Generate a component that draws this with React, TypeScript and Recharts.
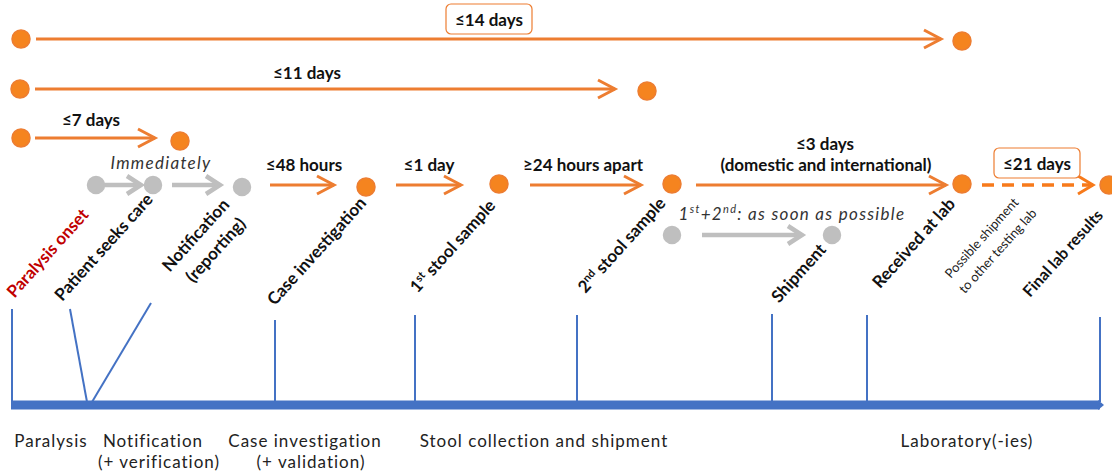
import React from 'react';
import { ComposedChart, Line, Scatter, XAxis, YAxis } from 'recharts';

const W = 1112;
const H = 474;

const ORANGE = '#ED7D31';
const DOT_ORANGE = '#F5841F';
const DASH_ORANGE = '#F77A1B';
const GREY = '#BFBFBF';
const BLUE = '#4472C4';
const FONT = 'Lato, "Open Sans", sans-serif';

// milestone dots (diagram units: x along the timeline, y down the page)
const orangeDots = [
  { x: 21, y: 39 }, { x: 962, y: 41 },
  { x: 20, y: 89 }, { x: 647, y: 91 },
  { x: 21, y: 138 }, { x: 180, y: 141 },
  { x: 366, y: 187 }, { x: 499, y: 184 }, { x: 672, y: 184 },
  { x: 962, y: 184 }, { x: 1109, y: 185 },
];
const greyDots = [
  { x: 96, y: 185 }, { x: 153, y: 185 }, { x: 242, y: 187 },
  { x: 672, y: 235 }, { x: 832, y: 235 },
];

// delay arrows
const spanArrows = [
  { from: 36, to: 941, y: 39 },
  { from: 35, to: 615, y: 89 },
  { from: 35, to: 155, y: 138 },
];
const stepArrows = [
  { from: 270, to: 334, y: 185 },
  { from: 396, to: 461, y: 185 },
  { from: 530, to: 641, y: 185 },
  { from: 696, to: 946, y: 185 },
];
const labArrows = [{ from: 982, to: 1093, y: 185 }];
const greyArrows = [
  { from: 104, to: 141, y: 185 },
  { from: 172, to: 220, y: 185 },
  { from: 702, to: 802, y: 235 },
];

// delay texts
const delayLabels = [
  { x: 307, y: 72, text: '≤11 days' },
  { x: 91, y: 119, text: '≤7 days' },
  { x: 304, y: 164, text: '≤48 hours' },
  { x: 429, y: 164, text: '≤1 day' },
  { x: 583, y: 164, text: '≥24 hours apart' },
  { x: 825, y: 143, text: '≤3 days' },
  { x: 826, y: 164, text: '(domestic and international)' },
];
const boxedLabels = [
  { x: 489, y: 19, text: '≤14 days' },
  { x: 1037, y: 163, text: '≤21 days' },
];
const noteLabels = [
  { x: 161, y: 162, lead: 'Immediately', sup1: '', mid: '', sup2: '', rest: '' },
  { x: 792, y: 213, lead: '1', sup1: 'st', mid: '+2', sup2: 'nd', rest: ': as soon as possible' },
];

// rotated milestone names
const onsetLabel = [{ x: 52, y: 257, lead: 'Paralysis onset', sup: '', rest: '' }];
const milestoneLabels = [
  { x: 108, y: 251, lead: 'Patient seeks care', sup: '', rest: '' },
  { x: 200, y: 239, lead: 'Notification', sup: '', rest: '' },
  { x: 220, y: 254, lead: '(reporting)', sup: '', rest: '' },
  { x: 321, y: 255, lead: 'Case investigation', sup: '', rest: '' },
  { x: 457, y: 250, lead: '1', sup: 'st', rest: ' stool sample' },
  { x: 626, y: 249, lead: '2', sup: 'nd', rest: ' stool sample' },
  { x: 803, y: 277, lead: 'Shipment', sup: '', rest: '' },
  { x: 918, y: 247, lead: 'Received at lab', sup: '', rest: '' },
];
const sideNotes = [
  { x: 985, y: 241, text: 'Possible shipment' },
  { x: 1001, y: 254, text: 'to other testing lab' },
];
const cutLabel = [{ x: 1030, y: 298, text: 'Final lab results' }];

// timeline connectors and axis
const connectors = [
  { x1: 12, y1: 309, x2: 12, y2: 402 },
  { x1: 70, y1: 309, x2: 87, y2: 402 },
  { x1: 151, y1: 303, x2: 92, y2: 402 },
  { x1: 275, y1: 320, x2: 275, y2: 402 },
  { x1: 415, y1: 315, x2: 415, y2: 402 },
  { x1: 577, y1: 315, x2: 577, y2: 402 },
  { x1: 772, y1: 314, x2: 772, y2: 402 },
  { x1: 867, y1: 315, x2: 867, y2: 402 },
  { x1: 1100, y1: 317, x2: 1100, y2: 402 },
];
const timelineAxis = [{ x: 11, y: 405 }, { x: 1100, y: 405 }];
const phaseLabels = [
  { x: 51, y: 447, text: 'Paralysis' },
  { x: 153, y: 447, text: 'Notification' },
  { x: 159, y: 468, text: '(+ verification)' },
  { x: 305, y: 447, text: 'Case investigation' },
  { x: 311, y: 468, text: '(+ validation)' },
  { x: 544, y: 447, text: 'Stool collection and shipment' },
  { x: 967, y: 447, text: 'Laboratory(-ies)' },
];

const chevron = (color: string, len: number, half: number, width: number) => (p: any) => {
  if (p.index !== 1) return <g key={`n-${p.index}`} />;
  return (
    <path
      key={`h-${p.index}`}
      d={`M${p.cx - len},${p.cy - half} L${p.cx},${p.cy} L${p.cx - len},${p.cy + half}`}
      fill="none"
      stroke={color}
      strokeWidth={width}
    />
  );
};

const dotShape = (fill: string, stroke: string, r: number) => (p: any) => (
  <circle cx={p.cx} cy={p.cy} r={r} fill={fill} stroke={stroke} strokeWidth={1.5} />
);

const plainText = (p: any) => (
  <text x={p.cx} y={p.cy} textAnchor="middle" dominantBaseline="central" fontFamily={FONT}
    fontWeight={700} fontSize={17} fill="#111">{p.payload.text}</text>
);

const boxedText = (p: any) => (
  <g>
    <rect x={p.cx - 43} y={p.cy - 15} width={86} height={30} rx={5} fill="#fff" stroke={ORANGE} strokeWidth={1.2} />
    <text x={p.cx} y={p.cy} textAnchor="middle" dominantBaseline="central" fontFamily={FONT}
      fontWeight={700} fontSize={17} fill="#111">{p.payload.text}</text>
  </g>
);

const noteText = (p: any) => (
  <text x={p.cx} y={p.cy} textAnchor="middle" dominantBaseline="central" fontFamily={FONT}
    fontStyle="italic" fontSize={17} letterSpacing={1.3} fill="#333">
    <tspan>{p.payload.lead}</tspan>
    {p.payload.sup1 && <tspan dy={-5} fontSize={11}>{p.payload.sup1}</tspan>}
    {p.payload.mid && <tspan dy={5}>{p.payload.mid}</tspan>}
    {p.payload.sup2 && <tspan dy={-5} fontSize={11}>{p.payload.sup2}</tspan>}
    {p.payload.rest && <tspan dy={5}>{p.payload.rest}</tspan>}
  </text>
);

const rotatedText = (color: string) => (p: any) => (
  <text x={p.cx} y={p.cy} transform={`rotate(-48 ${p.cx} ${p.cy})`} textAnchor="middle"
    fontFamily={FONT} fontWeight={700} fontSize={17} fill={color}>
    <tspan>{p.payload.lead}</tspan>
    {p.payload.sup && <tspan dy={-6} fontSize={11}>{p.payload.sup}</tspan>}
    {p.payload.rest && <tspan dy={6}>{p.payload.rest}</tspan>}
  </text>
);

const sideText = (p: any) => (
  <text x={p.cx} y={p.cy} transform={`rotate(-48 ${p.cx} ${p.cy})`} textAnchor="middle"
    fontFamily={FONT} fontSize={13} fill="#222">{p.payload.text}</text>
);

const cutText = (p: any) => (
  <text x={p.cx} y={p.cy} transform={`rotate(-48 ${p.cx} ${p.cy})`} textAnchor="start"
    fontFamily={FONT} fontWeight={700} fontSize={16} fill="#111">{p.payload.text}</text>
);

const phaseText = (p: any) => (
  <text x={p.cx} y={p.cy} textAnchor="middle" fontFamily={FONT} fontSize={17}
    letterSpacing={1} fill="#222">{p.payload.text}</text>
);

const axisHead = (p: any) => {
  if (p.index !== 1) return <g key={`n-${p.index}`} />;
  return <path key="axis-head" d={`M${p.cx - 2},${p.cy - 5} L${p.cx + 4},${p.cy} L${p.cx - 2},${p.cy + 5} Z`} fill={BLUE} />;
};

const arrowLine = (a: { from: number; to: number; y: number }) => [
  { x: a.from, y: a.y },
  { x: a.to, y: a.y },
];

export default function App() {
  return (
    <div style={{ position: 'absolute', left: 0, top: 0, background: '#fff' }}>
      <ComposedChart width={W} height={H} margin={{ top: 0, right: 0, bottom: 0, left: 0 }}>
        <XAxis type="number" dataKey="x" domain={[0, W]} hide />
        <YAxis type="number" dataKey="y" domain={[0, H]} reversed hide />

        {connectors.map((c, i) => (
          <Line key={`c${i}`} data={[{ x: c.x1, y: c.y1 }, { x: c.x2, y: c.y2 }]} dataKey="y"
            stroke={BLUE} strokeWidth={2} dot={false} activeDot={false} isAnimationActive={false} />
        ))}
        <Line data={timelineAxis} dataKey="y" stroke={BLUE} strokeWidth={9} dot={axisHead}
          activeDot={false} isAnimationActive={false} />

        {spanArrows.map((a, i) => (
          <Line key={`s${i}`} data={arrowLine(a)} dataKey="y" stroke={ORANGE} strokeWidth={3}
            dot={chevron(ORANGE, 17, 9, 3)} activeDot={false} isAnimationActive={false} />
        ))}
        {stepArrows.map((a, i) => (
          <Line key={`t${i}`} data={arrowLine(a)} dataKey="y" stroke={ORANGE} strokeWidth={3}
            dot={chevron(ORANGE, 17, 9, 3)} activeDot={false} isAnimationActive={false} />
        ))}
        {labArrows.map((a, i) => (
          <Line key={`l${i}`} data={arrowLine(a)} dataKey="y" stroke={DASH_ORANGE} strokeWidth={3.5}
            strokeDasharray="12 8" dot={chevron(DASH_ORANGE, 15, 9, 3)} activeDot={false}
            isAnimationActive={false} />
        ))}
        {greyArrows.map((a, i) => (
          <Line key={`g${i}`} data={arrowLine(a)} dataKey="y" stroke={GREY} strokeWidth={4.5}
            dot={chevron(GREY, 14, 9, 4.5)} activeDot={false} isAnimationActive={false} />
        ))}

        <Scatter data={orangeDots} shape={dotShape(DOT_ORANGE, ORANGE, 9)} isAnimationActive={false} />
        <Scatter data={greyDots} shape={dotShape(GREY, GREY, 8.5)} isAnimationActive={false} />

        <Scatter data={delayLabels} shape={plainText} isAnimationActive={false} />
        <Scatter data={boxedLabels} shape={boxedText} isAnimationActive={false} />
        <Scatter data={noteLabels} shape={noteText} isAnimationActive={false} />
        <Scatter data={onsetLabel} shape={rotatedText('#C00000')} isAnimationActive={false} />
        <Scatter data={milestoneLabels} shape={rotatedText('#111')} isAnimationActive={false} />
        <Scatter data={sideNotes} shape={sideText} isAnimationActive={false} />
        <Scatter data={cutLabel} shape={cutText} isAnimationActive={false} />
        <Scatter data={phaseLabels} shape={phaseText} isAnimationActive={false} />
      </ComposedChart>
    </div>
  );
}
